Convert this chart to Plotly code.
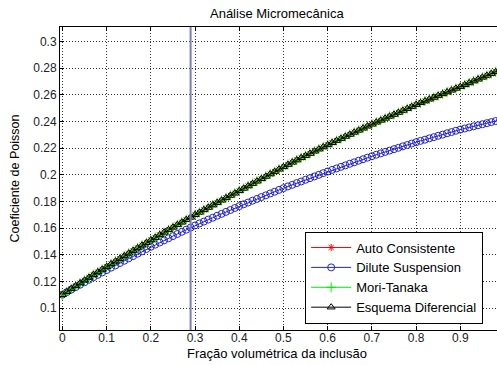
import plotly.graph_objects as go

# Volume fraction of the inclusion (0 to 1 in steps of 0.01)
fracao = [round(i * 0.01, 2) for i in range(101)]

# Effective Poisson ratio for each micromechanics scheme
auto_consistente = [
    0.1100, 0.1122, 0.1144, 0.1166, 0.1187, 0.1208, 0.1229, 0.1250, 0.1270, 0.1290,
    0.1310, 0.1331, 0.1351, 0.1371, 0.1391, 0.1411, 0.1431, 0.1451, 0.1471, 0.1490,
    0.1510, 0.1529, 0.1549, 0.1568, 0.1587, 0.1606, 0.1625, 0.1644, 0.1663, 0.1681,
    0.1700, 0.1718, 0.1737, 0.1755, 0.1773, 0.1791, 0.1809, 0.1827, 0.1845, 0.1862,
    0.1880, 0.1898, 0.1916, 0.1934, 0.1952, 0.1970, 0.1988, 0.2006, 0.2024, 0.2042,
    0.2060, 0.2077, 0.2094, 0.2111, 0.2128, 0.2144, 0.2160, 0.2177, 0.2193, 0.2209,
    0.2225, 0.2241, 0.2257, 0.2272, 0.2288, 0.2303, 0.2319, 0.2334, 0.2350, 0.2365,
    0.2380, 0.2395, 0.2409, 0.2424, 0.2439, 0.2453, 0.2468, 0.2483, 0.2497, 0.2512,
    0.2527, 0.2541, 0.2554, 0.2568, 0.2581, 0.2595, 0.2608, 0.2622, 0.2635, 0.2649,
    0.2662, 0.2676, 0.2690, 0.2704, 0.2718, 0.2732, 0.2746, 0.2760, 0.2774, 0.2788,
    0.2802,
]
dilute_suspension = [
    0.1100, 0.1119, 0.1138, 0.1157, 0.1175, 0.1194, 0.1212, 0.1231, 0.1249, 0.1267,
    0.1285, 0.1303, 0.1320, 0.1338, 0.1355, 0.1373, 0.1390, 0.1408, 0.1425, 0.1443,
    0.1460, 0.1476, 0.1492, 0.1508, 0.1524, 0.1540, 0.1556, 0.1572, 0.1588, 0.1604,
    0.1620, 0.1635, 0.1649, 0.1664, 0.1678, 0.1693, 0.1707, 0.1722, 0.1736, 0.1751,
    0.1765, 0.1779, 0.1792, 0.1806, 0.1819, 0.1833, 0.1846, 0.1860, 0.1873, 0.1887,
    0.1900, 0.1913, 0.1925, 0.1938, 0.1950, 0.1963, 0.1975, 0.1988, 0.2000, 0.2013,
    0.2025, 0.2037, 0.2048, 0.2060, 0.2071, 0.2083, 0.2094, 0.2106, 0.2117, 0.2129,
    0.2140, 0.2151, 0.2161, 0.2172, 0.2182, 0.2193, 0.2203, 0.2214, 0.2224, 0.2235,
    0.2245, 0.2255, 0.2264, 0.2274, 0.2283, 0.2293, 0.2302, 0.2312, 0.2321, 0.2331,
    0.2340, 0.2348, 0.2356, 0.2364, 0.2372, 0.2380, 0.2388, 0.2396, 0.2404, 0.2412,
    0.2420,
]
# Mori-Tanaka and the differential scheme coincide with the self-consistent curve
mori_tanaka = list(auto_consistente)
esquema_diferencial = list(auto_consistente)

# Reference volume fraction marked by the vertical line
fracao_limite = 0.29

x_ticks = [0, 0.1, 0.2, 0.3, 0.4, 0.5, 0.6, 0.7, 0.8, 0.9]
x_tick_text = ["0", "0.1", "0.2", "0.3", "0.4", "0.5", "0.6", "0.7", "0.8", "0.9"]
y_ticks = [0.1, 0.12, 0.14, 0.16, 0.18, 0.2, 0.22, 0.24, 0.26, 0.28, 0.3]
y_tick_text = ["0.1", "0.12", "0.14", "0.16", "0.18", "0.2", "0.22", "0.24", "0.26", "0.28", "0.3"]

FONT = "Liberation Sans, Arial, sans-serif"

series = [
    ("Auto Consistente", auto_consistente, "#ff0000", "asterisk-open", 6),
    ("Dilute Suspension", dilute_suspension, "#2323c8", "circle-open", 7),
    ("Mori-Tanaka", mori_tanaka, "#00ee00", "cross-thin-open", 7),
    ("Esquema Diferencial", esquema_diferencial, "#000000", "triangle-up-open", 7),
]

fig = go.Figure()
for name, values, color, symbol, size in series:
    fig.add_trace(go.Scatter(
        x=fracao, y=values, name=name, mode="lines+markers",
        line=dict(color=color, width=1),
        marker=dict(symbol=symbol, size=size, color=color, line=dict(color=color, width=1)),
    ))

fig.add_shape(
    type="line", xref="x", yref="paper",
    x0=fracao_limite, x1=fracao_limite, y0=0, y1=1,
    line=dict(color="#7c7cc0", width=2), layer="above",
)

axis_common = dict(
    showline=True, linecolor="#000000", linewidth=1,
    ticks="inside", ticklen=4, tickcolor="#000000", tickwidth=1,
    showgrid=True, gridcolor="rgba(0,0,0,0.8)", griddash="1px,2px", gridwidth=1,
    zeroline=False, automargin=False,
    tickfont=dict(family=FONT, size=12, color="#222222"),
)

fig.update_xaxes(
    range=[-0.0054, 0.983], tickvals=x_ticks, ticktext=x_tick_text,
    mirror="ticks", ticklabelstandoff=-3, **axis_common,
)
fig.update_yaxes(
    range=[0.0835, 0.311], tickvals=y_ticks, ticktext=y_tick_text,
    **axis_common,
)

fig.update_layout(
    width=497, height=365,
    margin=dict(l=60, r=0, t=27, b=35),
    paper_bgcolor="#ffffff", plot_bgcolor="#ffffff",
    font=dict(family=FONT, size=12, color="#000000"),
    title=dict(
        text="Análise Micromecânica", x=0.557, xanchor="center",
        y=1 - 13 / 365, yanchor="middle", yref="container",
        font=dict(family=FONT, size=13, color="#000000"),
    ),
    legend=dict(
        x=0.561, y=0.325, xanchor="left", yanchor="top",
        bgcolor="#ffffff", bordercolor="#000000", borderwidth=1,
        font=dict(family=FONT, size=13, color="#000000"),
        itemwidth=40, tracegroupgap=0,
    ),
    annotations=[
        dict(text="Fração volumétrica da inclusão", xref="paper", yref="paper",
             x=0.497, y=-0.077, xanchor="center", yanchor="middle", showarrow=False,
             font=dict(family=FONT, size=13, color="#000000")),
        dict(text="Coeficiente de Poisson", xref="paper", yref="paper",
             x=-0.103, y=0.5, xanchor="center", yanchor="middle", textangle=-90,
             showarrow=False, font=dict(family=FONT, size=12.5, color="#000000")),
    ],
)

fig.write_html("out.html")
